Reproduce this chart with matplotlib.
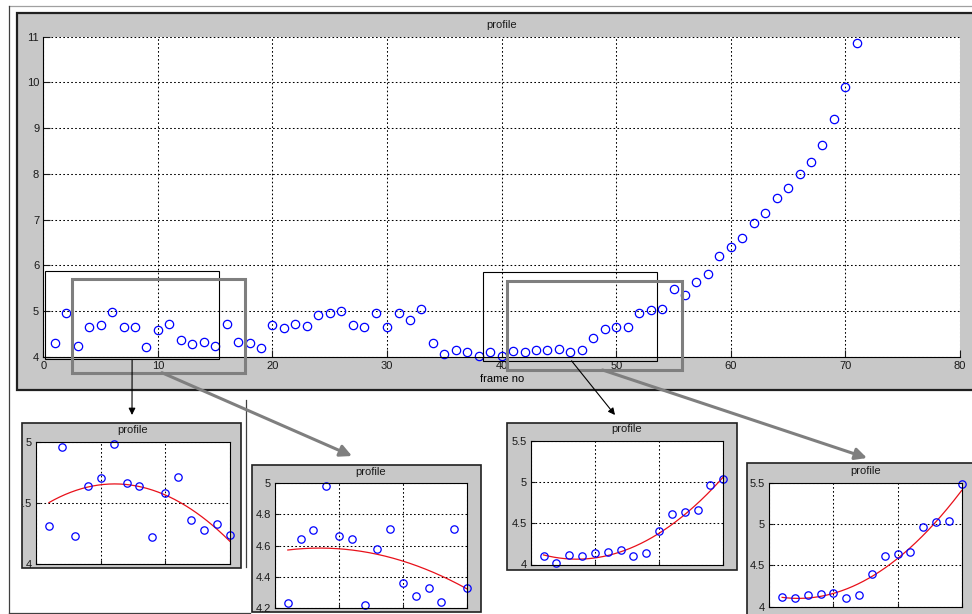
import numpy as np
import matplotlib.pyplot as plt
from matplotlib.patches import Rectangle, ConnectionPatch
from matplotlib.lines import Line2D
from matplotlib.ticker import FormatStrFormatter

plt.rcParams['font.family'] = ['Liberation Sans', 'DejaVu Sans']
plt.rcParams['text.color'] = '#1a1a1a'
plt.rcParams['xtick.color'] = '#1a1a1a'
plt.rcParams['ytick.color'] = '#1a1a1a'

# profile value per frame
frames = np.arange(1, 72)
profile = np.array([
    4.31, 4.96, 4.23, 4.64, 4.70, 4.98, 4.66, 4.64, 4.22, 4.58,
    4.71, 4.36, 4.28, 4.33, 4.24, 4.71, 4.33, 4.31, 4.19, 4.70,
    4.63, 4.72, 4.68, 4.92, 4.96, 5.00, 4.69, 4.64, 4.96, 4.66,
    4.95, 4.80, 5.04, 4.31, 4.06, 4.15, 4.10, 4.02, 4.10, 4.02,
    4.12, 4.10, 4.14, 4.15, 4.17, 4.10, 4.14, 4.40, 4.61, 4.64,
    4.66, 4.96, 5.03, 5.04, 5.48, 5.35, 5.64, 5.80, 6.20, 6.39,
    6.60, 6.93, 7.14, 7.48, 7.68, 8.00, 8.26, 8.64, 9.19, 9.90,
    10.86,
])

main_xticks = np.arange(0, 81, 10)
main_yticks = np.arange(4, 12, 1)

# zoomed windows: first frame, last frame, x limits, y limits, y ticks
win_first = [1, 3, 39, 41]
win_last = [15, 17, 53, 55]
win_xlim = [(0, 15), (2, 17), (38, 53), (40, 55)]
win_ylim = [(4, 5), (4.2, 5), (4, 5.5), (4, 5.5)]
win_yticks = [[4, 4.5, 5], [4.2, 4.4, 4.6, 4.8, 5], [4, 4.5, 5, 5.5], [4, 4.5, 5, 5.5]]

W, H = 972, 614
GRAY = '#c8c8c8'
fig = plt.figure(figsize=(W / 100, H / 100), dpi=100)


def fbox(l, t, r, b):
    return [l / W, 1 - b / H, (r - l) / W, (b - t) / H]


def fpt(x, y):
    return (x / W, 1 - y / H)


def panel(l, t, r, b, lw=1.2):
    p = Rectangle((l / W, 1 - b / H), (r - l) / W, (b - t) / H,
                  transform=fig.transFigure, facecolor=GRAY,
                  edgecolor='#202020', lw=lw, zorder=-1)
    fig.add_artist(p)
    return p


def grid_style(ax):
    ax.grid(True, color='k', ls=(0, (1.6, 2.2)), lw=0.75)
    ax.set_axisbelow(True)


# page frame lines
for xs, ys, c in [((9, 972), (6, 6), '#a0a0a0'),
                  ((9, 9), (6, 613), '#404040'),
                  ((9, 250), (613, 613), '#404040'),
                  ((246, 246), (400, 567), '#404040')]:
    fig.add_artist(Line2D([x / W for x in xs], [1 - y / H for y in ys],
                          transform=fig.transFigure, color=c, lw=0.9))

# main plot
panel(17, 13, 980, 390, lw=1.6)
ax = fig.add_axes(fbox(43.3, 36.7, 960, 356.7))
ax.plot(frames, profile, 'o', mfc='none', mec='#0000ff', ms=6, mew=0.9,
        clip_on=False)
ax.set_xlim(0, 80)
ax.set_ylim(4, 11)
ax.set_xticks(main_xticks)
ax.set_yticks(main_yticks)
ax.tick_params(direction='in', length=5, labelsize=8, pad=3, width=0.8)
ax.spines['top'].set_visible(False)
ax.spines['right'].set_visible(False)
grid_style(ax)
ax.set_title('profile', fontsize=8, pad=6)
ax.set_xlabel('frame no', fontsize=8, labelpad=2)

# selection boxes on the main plot
sel_boxes = [((0.15, 3.94), 15.2, 1.94, 'k', 0.8),
             ((2.53, 3.65), 15.04, 2.04, '#7f7f7f', 2.2),
             ((38.37, 3.91), 15.19, 1.94, 'k', 0.8),
             ((40.5, 3.71), 15.2, 1.95, '#7f7f7f', 2.2)]
for xy, w, h, c, lw in sel_boxes:
    ax.add_patch(Rectangle(xy, w, h, fill=False, edgecolor=c, lw=lw,
                           clip_on=False, zorder=4))

# zoomed panels
panel_px = [(21.7, 422.7, 240.7, 568), (251.7, 465, 480.7, 612),
            (506.7, 422.5, 736.7, 570), (746.7, 463.3, 980, 620)]
axes_px = [(36, 441.7, 230, 564), (275, 483.3, 467, 608),
           (530.7, 440.7, 723.3, 564.5), (769.3, 482.7, 961.7, 606.7)]

for i in range(4):
    pan = panel(*panel_px[i])
    a = fig.add_axes(fbox(*axes_px[i]))
    sel = (frames >= win_first[i]) & (frames <= win_last[i])
    x, y = frames[sel], profile[sel]
    coef = np.polyfit(x, y, 2)
    xf = np.linspace(x[0], x[-1], 200)
    a.plot(xf, np.polyval(coef, xf), color='#e8101a', lw=0.9)
    a.plot(x, y, 'o', mfc='none', mec='#0000ff', ms=5.3, mew=0.9,
           clip_on=False)
    a.set_xlim(win_xlim[i])
    a.set_ylim(win_ylim[i])
    a.set_xticks(np.linspace(win_xlim[i][0], win_xlim[i][1], 4))
    a.set_yticks(win_yticks[i])
    a.yaxis.set_major_formatter(FormatStrFormatter('%g'))
    a.tick_params(direction='in', length=3, labelsize=8, pad=3,
                  labelbottom=False, width=0.8)
    grid_style(a)
    a.set_title('profile', fontsize=8, pad=6)
    for t in a.yaxis.get_major_ticks():
        t.label1.set_clip_path(pan)

# arrows from the boxes to the zoomed panels
arrows = [((7.75, 3.94), (132, 415), 'k', 0.8, 8),
          ((10.35, 3.65), (352, 456), '#7f7f7f', 2.2, 14),
          ((46.1, 3.91), (615, 415), 'k', 0.8, 8),
          ((48.8, 3.71), (867, 458), '#7f7f7f', 2.2, 14)]
for start, end, c, lw, ms in arrows:
    fig.add_artist(ConnectionPatch(
        xyA=start, coordsA=ax.transData, xyB=fpt(*end),
        coordsB=fig.transFigure, arrowstyle='-|>,head_length=0.5,head_width=0.25',
        color=c, lw=lw, mutation_scale=ms, shrinkA=0, shrinkB=0, zorder=5))

fig.savefig('out.png', dpi=100)
